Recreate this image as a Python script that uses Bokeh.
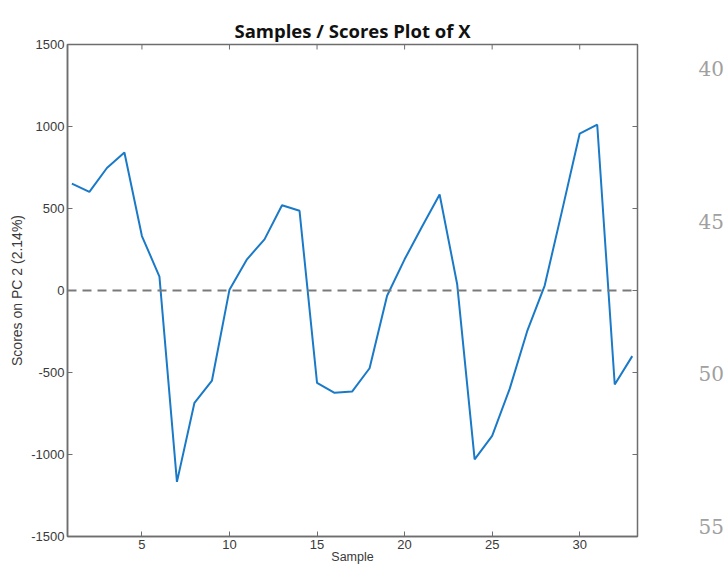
from bokeh.plotting import figure
from bokeh.layouts import row
from bokeh.models import Span, LinearAxis, FixedTicker, Range1d, Title
from bokeh.core.properties import value
from bokeh.embed import file_html
from bokeh.resources import INLINE

samples = list(range(1, 34))
scores = [652, 601, 747, 841, 332, 85, -1167, -685, -549, 5,
          190, 312, 520, 486, -563, -624, -616, -474, -32, 190,
          390, 585, 40, -1030, -887, -600, -248, 30, 490, 957,
          1011, -573, -400]
x_ticks = [5, 10, 15, 20, 25, 30]
y_ticks = [-1500, -1000, -500, 0, 500, 1000, 1500]
y_tick_labels = {t: str(t) for t in y_ticks}
margin_numbers = ["40", "45", "50", "55"]

X_MIN, X_MAX = 0.75, 33.3
Y_MIN, Y_MAX = -1500, 1500

AX = "#6e6e6e"
TXT = "#3a3a3a"

FRAME_TOP, FRAME_BOTTOM = 44, 537

p = figure(width=640, height=566, output_backend="svg", toolbar_location=None,
           x_range=Range1d(X_MIN, X_MAX), y_range=Range1d(Y_MIN, Y_MAX),
           min_border_left=67, min_border_right=3, min_border_top=FRAME_TOP,
           min_border_bottom=566 - FRAME_BOTTOM,
           x_axis_location=None, y_axis_location=None)
p.title = Title(text="Samples / Scores Plot of X", align="center",
                text_font="Open Sans", text_font_style="bold", text_font_size="18.5px",
                text_color="#111111", offset=0, standoff=4)
p.grid.visible = False
p.outline_line_color = AX
p.outline_line_width = 1.5
p.background_fill_color = "white"
p.border_fill_color = "white"


def make_axis(loc, ticks, label, size, overrides=None, standoff=2, label_standoff=3):
    ax = LinearAxis(ticker=FixedTicker(ticks=ticks))
    ax.axis_line_color = AX
    ax.axis_line_width = 1.5
    ax.major_tick_line_color = AX
    ax.major_tick_line_width = 1
    ax.major_tick_in = 5
    ax.major_tick_out = 0
    ax.minor_tick_line_color = None
    ax.major_label_text_font = "Liberation Sans"
    ax.major_label_text_font_size = "13px"
    ax.major_label_text_color = TXT
    ax.major_label_standoff = label_standoff
    if overrides:
        ax.major_label_overrides = overrides
    ax.axis_label = label
    ax.axis_label_text_font = "Liberation Sans"
    ax.axis_label_text_font_size = size
    ax.axis_label_text_font_style = "normal"
    ax.axis_label_text_color = TXT
    ax.axis_label_standoff = standoff
    p.add_layout(ax, loc)
    return ax


make_axis("below", x_ticks, "Sample", "12.5px", standoff=-2, label_standoff=3)
make_axis("left", y_ticks, "Scores on PC 2 (2.14%)", "14px", overrides=y_tick_labels, standoff=3)

# mirrored inward ticks on the top and right edges (half of each dash is clipped by the frame)
p.scatter(x_ticks, [Y_MAX] * len(x_ticks), marker="dash", angle=1.5708, size=10,
          line_color=AX, line_width=1)
p.scatter([X_MAX] * len(y_ticks), y_ticks, marker="dash", size=10,
          line_color=AX, line_width=1)

p.add_layout(Span(location=0, dimension="width", line_color="#7a7a7a",
                  line_width=2, line_dash="9 6"))
p.line(samples, scores, line_color="#1a7ac8", line_width=2)

# right margin: page line numbers, drawn in a narrow companion figure.
# The row aligns its frame with the main frame, so its y range is given in page pixels (y down).
W2 = 86
p2 = figure(width=W2, height=566, output_backend="svg", toolbar_location=None,
            x_range=Range1d(0, W2), y_range=Range1d(FRAME_BOTTOM, FRAME_TOP),
            min_border=0, x_axis_location=None, y_axis_location=None)
p2.grid.visible = False
p2.outline_line_color = None
p2.background_fill_color = "white"
p2.border_fill_color = "white"
num_x = [58] * len(margin_numbers)
num_y = [68 + i * 153 for i in range(len(margin_numbers))]
p2.text(num_x, num_y, text=margin_numbers, text_font=value("DejaVu Serif"),
        text_font_size="20px", text_color="#a0a0a0", text_baseline="middle", text_align="left")

open("out.html", "w").write(file_html(row(p, p2), INLINE))
